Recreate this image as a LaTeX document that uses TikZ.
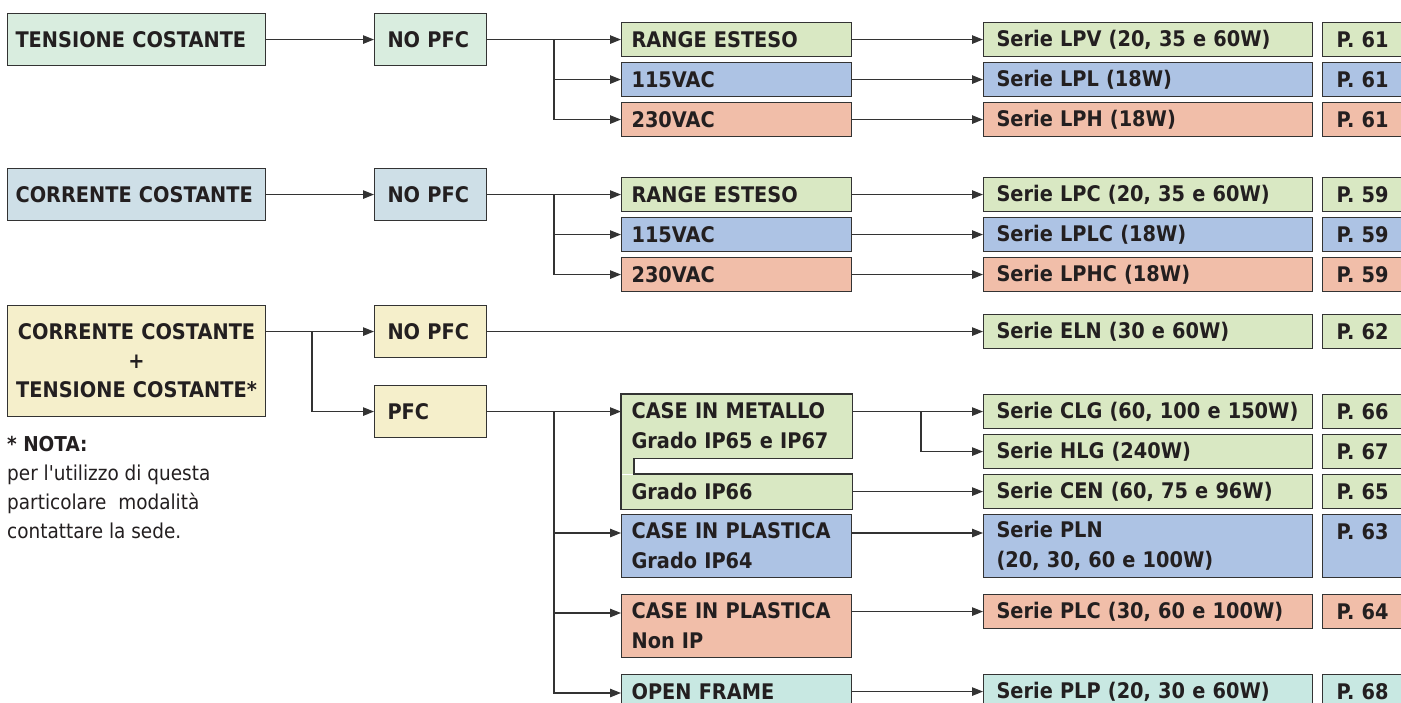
\documentclass[tikz,border=0pt]{standalone}
\usepackage{fontspec}
\setmainfont{DejaVu Sans}[FakeStretch=0.9]
\newfontfamily\notefont{DejaVu Sans}[FakeStretch=0.9]
\usetikzlibrary{arrows.meta,positioning,calc}
\definecolor{BoxMint}{HTML}{D9EDDF}
\definecolor{BoxLime}{HTML}{D9E8C3}
\definecolor{BoxBlue}{HTML}{ADC3E4}
\definecolor{BoxSalmon}{HTML}{F1BEA9}
\definecolor{BoxSteel}{HTML}{CEDFE7}
\definecolor{BoxCream}{HTML}{F5EFCB}
\definecolor{BoxTeal}{HTML}{C8E8E2}
\definecolor{LineDark}{HTML}{333333}
\definecolor{InkDark}{HTML}{231F20}
\tikzset{
  cell/.style={draw=LineDark,line width=1.1pt,anchor=north west,align=left,inner ysep=0pt,text=InkDark,font=\bfseries\fontsize{21.5}{30}\selectfont},
  colA/.style={minimum width=258pt,text width=242pt,inner xsep=8pt},
  colB/.style={minimum width=112pt,text width=86pt,inner xsep=13pt},
  colC/.style={minimum width=230pt,text width=210pt,inner xsep=10pt},
  colD/.style={minimum width=329pt,text width=303pt,inner xsep=13pt},
  colE/.style={minimum width=110pt,text width=82pt,inner xsep=14pt},
  tall/.style={minimum height=52pt},
  low/.style={minimum height=34pt},
  twoline/.style={minimum height=63pt},
  flowarrow/.style={-{Triangle[length=11pt,width=8.5pt]},line width=1.1pt,draw=LineDark},
  flowline/.style={line width=1.1pt,draw=LineDark}
}

\begin{document}
\begin{tikzpicture}[x=1pt,y=-1pt]
\useasboundingbox (0,0) rectangle (1401,702);
\fill[white] (0,0) rectangle (1401,702);
\clip (0,0) rectangle (1401,702);
% tensione costante
\node[cell,colA,tall,fill=BoxMint] (ts) at (7,13) {TENSIONE COSTANTE};
\node[cell,colB,tall,fill=BoxMint] (ts-np) at (374,13) {NO PFC};
\node[cell,colC,low,fill=BoxLime] (ts-re) at (621,22) {RANGE ESTESO};
\node[cell,colC,low,fill=BoxBlue] (ts-115) at (621,62) {115VAC};
\node[cell,colC,low,fill=BoxSalmon] (ts-230) at (621,102) {230VAC};
\node[cell,colD,low,fill=BoxLime] (lpv) at (983,22) {Serie LPV (20, 35 e 60W)};
\node[cell,colD,low,fill=BoxBlue] (lpl) at (983,62) {Serie LPL (18W)};
\node[cell,colD,low,fill=BoxSalmon] (lph) at (983,102) {Serie LPH (18W)};
\node[cell,colE,low,fill=BoxLime] (p-lpv) at (1322,22) {P. 61};
\node[cell,colE,low,fill=BoxBlue] (p-lpl) at (1322,62) {P. 61};
\node[cell,colE,low,fill=BoxSalmon] (p-lph) at (1322,102) {P. 61};
\coordinate (ts-split) at (554,39);
\draw[flowarrow] (ts) -- (ts-np);
\draw[flowarrow] (ts-np) -- (ts-re);
\draw[flowarrow] (ts-split) |- (ts-115);
\draw[flowarrow] (ts-split) |- (ts-230);
\draw[flowarrow] (ts-re) -- (lpv);
\draw[flowarrow] (ts-115) -- (lpl);
\draw[flowarrow] (ts-230) -- (lph);
% corrente costante
\node[cell,colA,tall,fill=BoxSteel] (cc) at (7,168) {CORRENTE COSTANTE};
\node[cell,colB,tall,fill=BoxSteel] (cc-np) at (374,168) {NO PFC};
\node[cell,colC,low,fill=BoxLime] (cc-re) at (621,177) {RANGE ESTESO};
\node[cell,colC,low,fill=BoxBlue] (cc-115) at (621,217) {115VAC};
\node[cell,colC,low,fill=BoxSalmon] (cc-230) at (621,257) {230VAC};
\node[cell,colD,low,fill=BoxLime] (lpc) at (983,177) {Serie LPC (20, 35 e 60W)};
\node[cell,colD,low,fill=BoxBlue] (lplc) at (983,217) {Serie LPLC (18W)};
\node[cell,colD,low,fill=BoxSalmon] (lphc) at (983,257) {Serie LPHC (18W)};
\node[cell,colE,low,fill=BoxLime] (p-lpc) at (1322,177) {P. 59};
\node[cell,colE,low,fill=BoxBlue] (p-lplc) at (1322,217) {P. 59};
\node[cell,colE,low,fill=BoxSalmon] (p-lphc) at (1322,257) {P. 59};
\coordinate (cc-split) at (554,194);
\draw[flowarrow] (cc) -- (cc-np);
\draw[flowarrow] (cc-np) -- (cc-re);
\draw[flowarrow] (cc-split) |- (cc-115);
\draw[flowarrow] (cc-split) |- (cc-230);
\draw[flowarrow] (cc-re) -- (lpc);
\draw[flowarrow] (cc-115) -- (lplc);
\draw[flowarrow] (cc-230) -- (lphc);
% corrente + tensione
\node[cell,colA,minimum height=111pt,align=center,fill=BoxCream,font=\bfseries\fontsize{21.5}{29}\selectfont] (mix) at (7,305) {CORRENTE COSTANTE\\+\\TENSIONE COSTANTE*};
\node[cell,colB,tall,fill=BoxCream] (mx-np) at (374,305) {NO PFC};
\node[cell,colB,tall,fill=BoxCream] (mx-pfc) at (374,385) {PFC};
\node[anchor=north west,align=left,inner sep=0pt,text=InkDark,font=\notefont\fontsize{20.5}{29}\selectfont] (nota) at (7,436) {\textbf{* NOTA:}\\per l'utilizzo di questa\\particolare\ \ modalità\\contattare la sede.};
\node[cell,colD,low,fill=BoxLime] (eln) at (983,314) {Serie ELN (30 e 60W)};
\node[cell,colE,low,fill=BoxLime] (p-eln) at (1322,314) {P. 62};
% case in metallo
\node[cell,colC,draw=none,twoline,fill=BoxLime] (met) at (621,394) {CASE IN METALLO\\Grado IP65 e IP67};
\node[cell,colC,draw=none,low,fill=BoxLime] (ip66) at (621,474) {Grado IP66};
\fill[BoxLime] (met.south west) rectangle ($(ip66.north west)+(13,0)$);
\draw[flowline] (met.north west) -- (met.north east) -- (met.south east) -- ($(met.south west)+(13,0)$) -- ($(ip66.north west)+(13,0)$) -- (ip66.north east) -- (ip66.south east) -- (ip66.south west) -- cycle;
\node[cell,colC,twoline,fill=BoxBlue] (ip64) at (621,514) {CASE IN PLASTICA\\Grado IP64};
\node[cell,colC,twoline,fill=BoxSalmon] (nonip) at (621,594) {CASE IN PLASTICA\\Non IP};
\node[cell,colC,low,fill=BoxTeal] (open) at (621,674) {OPEN FRAME};
\node[cell,colD,low,fill=BoxLime] (clg) at (983,394) {Serie CLG (60, 100 e 150W)};
\node[cell,colD,low,fill=BoxLime] (hlg) at (983,434) {Serie HLG (240W)};
\node[cell,colD,low,fill=BoxLime] (cen) at (983,474) {Serie CEN (60, 75 e 96W)};
\node[cell,colD,twoline,fill=BoxBlue] (pln) at (983,514) {Serie PLN\\(20, 30, 60 e 100W)};
\node[cell,colD,low,fill=BoxSalmon] (plc) at (983,594) {Serie PLC (30, 60 e 100W)};
\node[cell,colD,low,fill=BoxTeal] (plp) at (983,674) {Serie PLP (20, 30 e 60W)};
\node[cell,colE,low,fill=BoxLime] (p-clg) at (1322,394) {P. 66};
\node[cell,colE,low,fill=BoxLime] (p-hlg) at (1322,434) {P. 67};
\node[cell,colE,low,fill=BoxLime] (p-cen) at (1322,474) {P. 65};
\node[cell,colE,twoline,fill=BoxBlue] (p-pln) at (1322,514) {P. 63\\~};
\node[cell,colE,low,fill=BoxSalmon] (p-plc) at (1322,594) {P. 64};
\node[cell,colE,low,fill=BoxTeal] (p-plp) at (1322,674) {P. 68};
\coordinate (mx-split) at (312,331);
\coordinate (pfc-split) at (554,411);
\coordinate (met-split) at (921,411);
\draw[flowarrow] (mix.east |- mx-np) -- (mx-np);
\draw[flowarrow] (mx-split) |- (mx-pfc);
\draw[flowarrow] (mx-np) -- (eln);
\draw[flowarrow] (mx-pfc) -- (mx-pfc -| met.west);
\draw[flowarrow] (pfc-split) |- ($(ip64.north west)+(0,19)$);
\draw[flowarrow] (pfc-split) |- ($(nonip.north west)+(0,19)$);
\draw[flowarrow] (pfc-split) |- ($(open.north west)+(0,19)$);
\draw[flowarrow] (met.east |- clg) -- (clg);
\draw[flowarrow] (met-split) |- (hlg);
\draw[flowarrow] (ip66) -- (cen);
\draw[flowarrow] ($(ip64.north east)+(0,19)$) -- ($(pln.north west)+(0,19)$);
\draw[flowarrow] (nonip.east |- plc) -- (plc);
\draw[flowarrow] (open.east |- plp) -- (plp);
\end{tikzpicture}
\end{document}
